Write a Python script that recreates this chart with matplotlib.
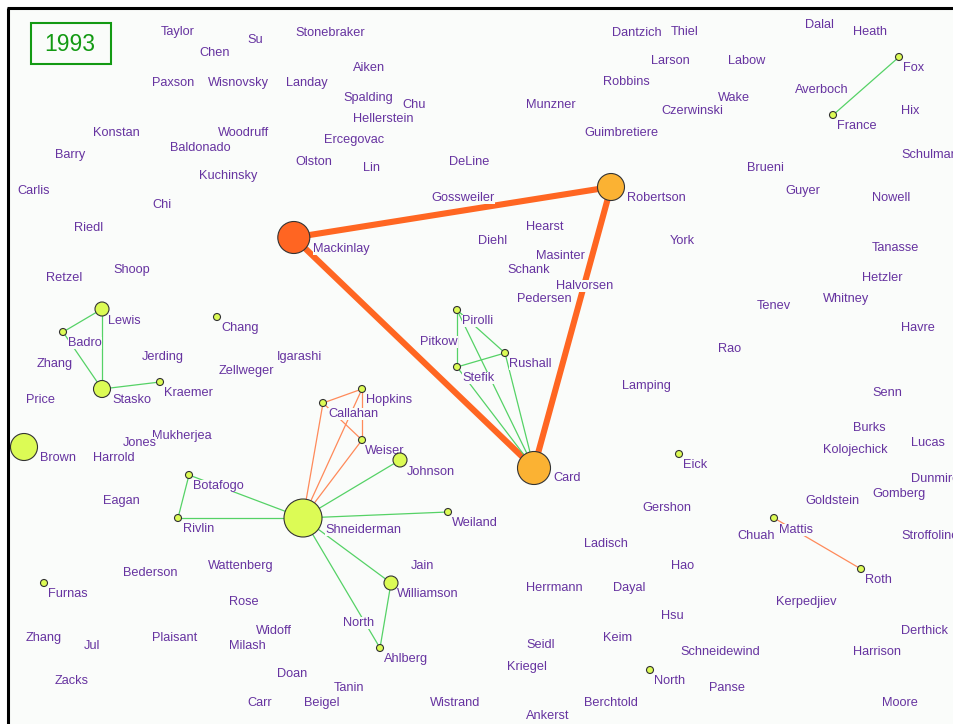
import matplotlib
matplotlib.use("Agg")
import matplotlib.pyplot as plt
from matplotlib.patches import Circle, Rectangle

# ---------------- data ----------------
year_label = "1993"

# author labels: text, left x, centre y (layout coordinates, pixels)
label_text = [
    "Taylor", "Chen", "Su", "Stonebraker", "Paxson", "Wisnovsky", "Landay", "Aiken",
    "Spalding", "Chu", "Hellerstein", "Konstan", "Woodruff", "Baldonado", "Barry",
    "Ercegovac", "Olston", "Lin", "DeLine", "Kuchinsky", "Carlis", "Chi", "Riedl",
    "Gossweiler", "Munzner", "Dantzich", "Thiel", "Robbins", "Larson", "Labow", "Dalal",
    "Heath", "Fox", "Wake", "Averboch", "Czerwinski", "Hix", "France", "Guimbretiere",
    "Schulman", "Brueni", "Guyer", "Nowell", "Robertson", "Mackinlay", "Hearst", "Diehl",
    "Masinter", "York", "Tanasse", "Schank", "Halvorsen", "Hetzler", "Pedersen", "Whitney",
    "Tenev", "Retzel", "Shoop", "Lewis", "Chang", "Badro", "Pirolli", "Pitkow", "Havre",
    "Zhang", "Jerding", "Igarashi", "Rushall", "Rao", "Zellweger", "Stefik", "Kraemer",
    "Stasko", "Price", "Hopkins", "Callahan", "Lamping", "Senn", "Mukherjea", "Jones",
    "Harrold", "Brown", "Weiser", "Burks", "Kolojechick", "Lucas", "Johnson", "Card",
    "Eick", "Dunmire", "Botafogo", "Eagan", "Gomberg", "Goldstein", "Gershon",
    "Shneiderman", "Weiland", "Rivlin", "Mattis", "Chuah", "Stroffolino", "Ladisch",
    "Jain", "Hao", "Wattenberg", "Bederson", "Roth", "Williamson", "Herrmann", "Dayal",
    "Furnas", "Rose", "Kerpedjiev", "Hsu", "North", "Widoff", "Derthick", "Zhang", "Jul",
    "Plaisant", "Milash", "Keim", "Seidl", "Schneidewind", "Harrison", "Ahlberg",
    "Kriegel", "Doan", "North", "Zacks", "Panse", "Tanin", "Carr", "Beigel", "Wistrand",
    "Berchtold", "Moore", "Ankerst",
]
label_x = [
    161, 199, 247, 295, 152, 208, 286, 353,
    343, 402, 353, 93, 218, 170, 55,
    324, 295, 363, 449, 199, 17, 152, 74,
    431, 526, 612, 671, 603, 651, 728, 805,
    853, 903, 718, 795, 661, 901, 837, 584,
    901, 747, 785, 872, 627, 313, 526, 478,
    536, 670, 872, 507, 556, 862, 517, 823,
    757, 46, 113, 108, 221, 68, 462, 420, 901,
    37, 142, 277, 509, 718, 219, 462, 164,
    112, 26, 366, 328, 622, 872, 152, 123,
    93, 40, 365, 853, 823, 911, 407, 553,
    683, 911, 193, 103, 872, 805, 642,
    325, 452, 183, 779, 737, 901, 584,
    411, 671, 208, 123, 865, 397, 526, 613,
    48, 229, 776, 661, 343, 256, 901, 26, 84,
    152, 229, 603, 526, 680, 853, 384,
    507, 277, 654, 55, 709, 334, 247, 304, 430,
    584, 882, 526,
]
label_y = [
    31, 52, 39, 32, 82, 82, 82, 67,
    97, 104, 118, 132, 132, 147, 154,
    139, 161, 167, 161, 175, 190, 204, 227,
    197, 104, 32, 31, 81, 60, 60, 24,
    31, 67, 97, 89, 110, 110, 125, 132,
    154, 167, 190, 197, 197, 248, 226, 240,
    255, 240, 247, 269, 285, 277, 298, 298,
    305, 277, 269, 320, 327, 342, 320, 341, 327,
    363, 356, 356, 363, 348, 370, 377, 392,
    399, 399, 399, 413, 385, 392, 435, 442,
    457, 457, 450, 427, 449, 442, 471, 477,
    464, 478, 485, 500, 493, 500, 507,
    529, 522, 528, 529, 535, 535, 543,
    565, 565, 565, 572, 579, 593, 587, 587,
    593, 601, 601, 615, 622, 630, 630, 637, 645,
    637, 645, 637, 644, 651, 651, 658,
    666, 673, 680, 680, 687, 687, 702, 702, 702,
    702, 702, 715,
]

# nodes: id, centre x, centre y, radius (pixels), colour group
node_id = [
    "Mackinlay", "Robertson", "Card", "Shneiderman", "Brown", "Stasko", "Lewis",
    "Badro", "Kraemer", "Chang", "Pirolli", "Stefik", "Rushall", "Hopkins", "Callahan",
    "Weiser", "Johnson", "Botafogo", "Rivlin", "Weiland", "Williamson", "Ahlberg",
    "Fox", "France", "Eick", "Mattis", "Roth", "North2", "Furnas",
]
node_x = [293.8, 611, 534, 303, 24, 102, 102,
          63, 160, 217, 457, 457, 505, 362, 323,
          362, 400, 189, 178, 448, 391, 380,
          899, 833, 679, 774, 861, 650, 44]
node_y = [237.5, 187, 468, 518, 447, 389, 309,
          332, 382, 317, 310, 367, 353, 389, 403,
          440, 460, 475, 518, 512, 583, 648,
          57, 115, 454, 518, 569, 670, 583]
node_r = [16, 13.5, 16.5, 19, 13.5, 8.5, 7,
          3.5, 3.5, 3.5, 3.5, 3.5, 3.5, 3.5, 3.5,
          3.5, 7, 3.5, 3.5, 3.5, 7, 3.5,
          3.5, 3.5, 3.5, 3.5, 3.5, 3.5, 3.5]
node_group = ["hot", "warm", "warm"] + ["base"] * 26

# edges: source, target, kind
edge_src = ["Mackinlay", "Mackinlay", "Robertson",
            "Fox", "Lewis", "Lewis", "Badro", "Stasko",
            "Pirolli", "Stefik", "Pirolli", "Pirolli", "Stefik", "Rushall",
            "Hopkins", "Hopkins", "Callahan", "Callahan", "Hopkins", "Weiser",
            "Shneiderman", "Shneiderman", "Shneiderman", "Botafogo", "Shneiderman",
            "Shneiderman", "Shneiderman", "Williamson", "Mattis"]
edge_dst = ["Robertson", "Card", "Card",
            "France", "Badro", "Stasko", "Stasko", "Kraemer",
            "Stefik", "Rushall", "Rushall", "Card", "Card", "Card",
            "Callahan", "Weiser", "Weiser", "Shneiderman", "Shneiderman", "Shneiderman",
            "Johnson", "Botafogo", "Rivlin", "Rivlin", "Weiland",
            "Williamson", "Ahlberg", "Ahlberg", "Roth"]
edge_kind = ["strong", "strong", "strong",
             "green", "green", "green", "green", "green",
             "green", "green", "green", "green", "green", "green",
             "orange", "orange", "orange", "orange", "orange", "orange",
             "green", "green", "green", "green", "green",
             "green", "green", "green", "orange"]

# ---------------- style ----------------
BG = "#fafcfa"
TEXT_C = "#6633a0"
GROUP_COLOR = {"hot": "#ff6522", "warm": "#fbb233", "base": "#dcfb55"}
EDGE_STYLE = {"strong": ("#ff6622", 4.4), "green": ("#55d266", 0.9),
              "orange": ("#ff8a5a", 0.9)}

W, H = 954, 724
fig = plt.figure(figsize=(W / 100, H / 100), dpi=100)
fig.patch.set_facecolor("white")
ax = fig.add_axes([0, 0, 1, 1])
ax.set_xlim(0, W)
ax.set_ylim(H, 0)
ax.axis("off")

# canvas and frame
ax.add_patch(Rectangle((8, 8), W + 10, H + 10, facecolor=BG, edgecolor="none", zorder=0))
ax.plot([8, 8], [8, H + 5], color="black", lw=2.2, zorder=10, solid_capstyle="butt")
ax.plot([7, W + 5], [8, 8], color="black", lw=2.2, zorder=10, solid_capstyle="butt")

# year box
ax.add_patch(Rectangle((31, 23), 80, 41, facecolor="none", edgecolor="#139a13",
                       lw=1.5, zorder=6))
ax.text(70, 44.5, year_label, color="#139a13", fontsize=16.5, family="Liberation Sans",
        ha="center", va="center", zorder=6)

pos = {n: (x, y) for n, x, y in zip(node_id, node_x, node_y)}

# edges
for s, t, k in zip(edge_src, edge_dst, edge_kind):
    c, lw = EDGE_STYLE[k]
    (x0, y0), (x1, y1) = pos[s], pos[t]
    ax.plot([x0, x1], [y0, y1], color=c, lw=lw, zorder=2, solid_capstyle="butt")

# labels (with canvas-coloured background that hides edges behind them)
for txt, x, y in zip(label_text, label_x, label_y):
    ax.text(x, y + 1, txt, color=TEXT_C, fontsize=9.2, family="Liberation Sans",
            ha="left", va="center", zorder=3,
            bbox=dict(facecolor=BG, edgecolor="none", pad=0.3))

# nodes
for n, x, y, r, g in zip(node_id, node_x, node_y, node_r, node_group):
    ax.add_patch(Circle((x, y), r, facecolor=GROUP_COLOR[g], edgecolor="#333333",
                        lw=0.8, zorder=5))

fig.savefig("out.png", dpi=100, facecolor="white")
